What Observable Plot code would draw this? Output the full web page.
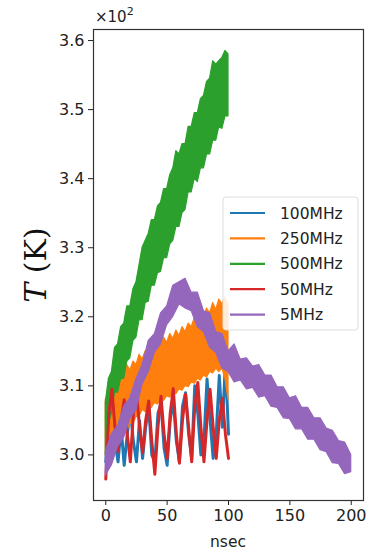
<!DOCTYPE html>
<html>
<head>
<meta charset="utf-8">
<script src="https://cdn.jsdelivr.net/npm/d3@7"></script>
<script src="https://cdn.jsdelivr.net/npm/@observablehq/plot@0.6"></script>
<style>
  html, body { margin: 0; padding: 0; background: #fff; }
  #chart svg { display: block; }
</style>
</head>
<body>
<div id="chart"></div>
<script>
// ---- data (temperature in units of 10^2 K, time in nsec) ----
const seriesNames = ["100MHz", "250MHz", "500MHz", "50MHz", "5MHz"];
const seriesColors = ["#1f77b4", "#ff7f0e", "#2ca02c", "#d62728", "#9467bd"];

// time grid for the 0–100 ns runs (step 2.5 ns)
const tShort = [0,2.5,5,7.5,10,12.5,15,17.5,20,22.5,25,27.5,30,32.5,35,37.5,40,42.5,45,47.5,50,
  52.5,55,57.5,60,62.5,65,67.5,70,72.5,75,77.5,80,82.5,85,87.5,90,92.5,95,97.5,100];
// time grid for the 0–200 ns run (step 5 ns)
const tLong = [0,5,10,15,20,25,30,35,40,45,50,55,60,65,70,75,80,85,90,95,100,
  105,110,115,120,125,130,135,140,145,150,155,160,165,170,175,180,185,190,195,200];

// 100MHz (blue line)
const blue100 = [2.99,3.05,3.07,3.02,2.99,3.04,2.985,3.03,3.065,3.02,2.99,3.05,2.995,3.04,3.07,3.0,
  2.99,3.06,3.075,3.01,2.985,3.05,3.08,3.02,2.99,3.07,3.09,3.03,2.995,3.10,3.06,3.0,3.02,3.11,3.05,
  2.995,3.03,3.115,3.04,3.135,3.03];

// 250MHz (orange band: lower / upper envelope)
const orangeLo = [3.0,2.995,3.005,3.01,3.02,3.02,3.035,3.035,3.045,3.045,3.055,3.055,3.065,3.062,3.07,
  3.068,3.075,3.073,3.08,3.078,3.085,3.083,3.09,3.088,3.095,3.093,3.1,3.098,3.105,3.103,3.11,3.108,
  3.115,3.112,3.12,3.118,3.125,3.12,3.125,3.11,3.08];
const orangeHi = [3.08,3.09,3.088,3.105,3.10,3.115,3.118,3.13,3.122,3.135,3.13,3.145,3.138,3.15,3.145,
  3.158,3.15,3.165,3.158,3.17,3.162,3.175,3.168,3.18,3.172,3.185,3.178,3.19,3.185,3.198,3.19,3.205,
  3.198,3.212,3.205,3.22,3.21,3.225,3.218,3.228,3.215];

// 500MHz (green band)
const greenLo = [3.0,3.045,3.06,3.09,3.09,3.11,3.11,3.135,3.14,3.165,3.17,3.195,3.195,3.22,3.222,
  3.245,3.245,3.263,3.265,3.285,3.285,3.305,3.31,3.33,3.33,3.35,3.355,3.38,3.38,3.40,3.395,3.415,
  3.415,3.435,3.435,3.455,3.455,3.475,3.472,3.49,3.49];
const greenHi = [3.075,3.11,3.12,3.155,3.16,3.185,3.19,3.215,3.215,3.24,3.25,3.275,3.30,3.31,3.32,
  3.34,3.34,3.36,3.365,3.385,3.385,3.405,3.415,3.44,3.435,3.45,3.45,3.475,3.475,3.495,3.495,3.515,
  3.52,3.54,3.545,3.57,3.565,3.57,3.575,3.585,3.58];

// 50MHz (red line)
const red50 = [2.965,3.06,3.095,3.04,3.005,3.05,3.08,3.03,2.99,3.06,3.093,3.04,3.003,3.05,3.078,3.02,
  2.972,3.04,3.085,3.03,2.995,3.06,3.096,3.03,2.988,3.05,3.088,3.04,2.99,3.07,3.105,3.04,2.99,3.05,
  3.095,3.04,2.995,3.05,3.082,3.03,2.995];

// 5MHz (purple band)
const purpleLo = [2.97,2.985,3.012,3.025,3.052,3.065,3.102,3.12,3.148,3.16,3.188,3.2,3.218,3.212,3.208,
  3.185,3.178,3.155,3.148,3.125,3.12,3.105,3.108,3.095,3.097,3.083,3.085,3.07,3.068,3.053,3.052,3.037,
  3.037,3.022,3.022,3.007,3.004,2.988,2.987,2.972,2.975];
const purpleHi = [3.005,3.03,3.042,3.07,3.082,3.11,3.13,3.165,3.175,3.205,3.215,3.245,3.25,3.255,3.235,
  3.235,3.208,3.205,3.178,3.175,3.15,3.16,3.138,3.14,3.128,3.13,3.115,3.115,3.098,3.098,3.082,3.085,
  3.068,3.068,3.053,3.053,3.038,3.035,3.02,3.018,3.0];

const yTicks = [3.0, 3.1, 3.2, 3.3, 3.4, 3.5, 3.6];
const xTicks = [0, 50, 100, 150, 200];

// ---- tables built from the arrays ----
const lineTable = (vals) => tShort.map((t, i) => ({t, v: vals[i]}));
const bandTable = (ts, lo, hi) => ts.map((t, i) => ({t, lo: lo[i], hi: hi[i]}));

const W = 366, H = 553;
const mL = 93, mR = 3, mT = 29, mB = 53;

const chart = Plot.plot({
  width: W, height: H,
  marginLeft: mL, marginRight: mR, marginTop: mT, marginBottom: mB,
  style: {fontFamily: "DejaVu Sans, sans-serif", fontSize: "16px", color: "#222", background: "#fff"},
  x: {domain: [-10, 210], ticks: xTicks, tickSize: 5, tickPadding: 4, label: null},
  y: {domain: [2.934, 3.616], ticks: yTicks, tickFormat: d3.format(".1f"), tickSize: 5, tickPadding: 4, label: null},
  marks: [
    Plot.lineY(lineTable(blue100), {x: "t", y: "v", stroke: seriesColors[0], strokeWidth: 3}),
    Plot.areaY(bandTable(tShort, orangeLo, orangeHi), {x: "t", y1: "lo", y2: "hi", fill: seriesColors[1], stroke: seriesColors[1], strokeWidth: 1.2}),
    Plot.areaY(bandTable(tShort, greenLo, greenHi), {x: "t", y1: "lo", y2: "hi", fill: seriesColors[2], stroke: seriesColors[2], strokeWidth: 1.2}),
    Plot.lineY(lineTable(red50), {x: "t", y: "v", stroke: seriesColors[3], strokeWidth: 3}),
    Plot.areaY(bandTable(tLong, purpleLo, purpleHi), {x: "t", y1: "lo", y2: "hi", fill: seriesColors[4], stroke: seriesColors[4], strokeWidth: 1.2}),
    Plot.frame({stroke: "#333", strokeWidth: 1.2})
  ]
});

document.getElementById("chart").appendChild(chart);

// ---- annotations: offset text, axis labels, legend ----
const svg = d3.select(chart);
svg.append("text")
  .attr("x", mL + 2).attr("y", mT - 7)
  .attr("text-anchor", "start")
  .attr("font-family", "DejaVu Sans, sans-serif").attr("font-size", 15).attr("fill", "#222")
  .text("×10")
  .append("tspan").attr("dy", -7).attr("font-size", 11).text("2");

svg.append("text")
  .attr("x", mL + (W - mL - mR) * (110 / 220)).attr("y", H - 6)
  .attr("text-anchor", "middle")
  .attr("font-family", "DejaVu Sans, sans-serif").attr("font-size", 15.5).attr("fill", "#222")
  .text("nsec");

const yl = svg.append("text")
  .attr("transform", `translate(46, ${265}) rotate(-90)`)
  .attr("text-anchor", "middle")
  .attr("font-family", "DejaVu Serif, Liberation Serif, serif").attr("font-size", 30).attr("fill", "#111");
yl.append("tspan").attr("font-style", "italic").text("T");
yl.append("tspan").text(" (K)");

// legend
const lg = svg.append("g").attr("transform", "translate(223,197)");
lg.append("rect").attr("width", 135).attr("height", 133).attr("rx", 3)
  .attr("fill", "#fff").attr("fill-opacity", 0.85).attr("stroke", "#ddd");
seriesNames.forEach((name, i) => {
  const yy = 16 + i * 25.4;
  lg.append("line").attr("x1", 7).attr("x2", 42).attr("y1", yy).attr("y2", yy)
    .attr("stroke", seriesColors[i]).attr("stroke-width", 2.2);
  lg.append("text").attr("x", 57).attr("y", yy).attr("dy", "0.36em")
    .attr("text-anchor", "start")
    .attr("font-family", "DejaVu Sans, sans-serif").attr("font-size", 15.5).attr("fill", "#222")
    .text(name);
});
</script>
</body>
</html>
